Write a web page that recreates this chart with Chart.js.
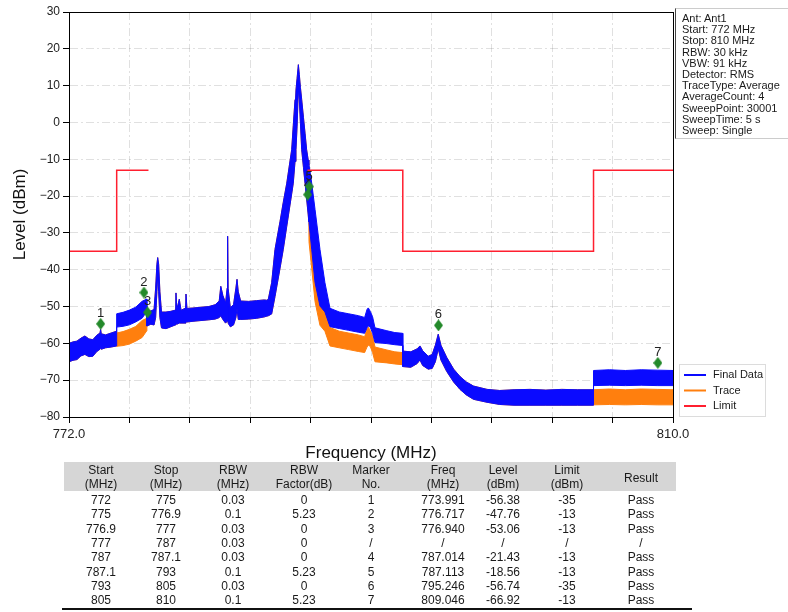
<!DOCTYPE html>
<html>
<head>
<meta charset="utf-8">
<script src="https://cdn.jsdelivr.net/npm/chart.js@4.4.1/dist/chart.umd.min.js"></script>
<style>
  html, body { margin: 0; padding: 0; background: #fff; }
  #wrap { position: relative; width: 788px; height: 612px; overflow: hidden;
          font-family: "Liberation Sans", Arial, sans-serif; color: #1a1a1a; }
  #chart { position: absolute; left: 0; top: 0; }
  #info { position: absolute; left: 675px; top: 8px; width: 120px; height: 131px;
          border-left: 1px solid #444; border-top: 1px solid #ccc; border-bottom: 1px solid #ccc;
          box-sizing: border-box; padding: 4px 0 0 6px; font-size: 11px; line-height: 11.2px;
          white-space: nowrap; overflow: hidden; }
  .hdr { position: absolute; left: 64px; top: 462px; width: 612px; height: 29px; background: #d6d6d6; }
  .cell { position: absolute; width: 90px; height: 14px; line-height: 14px; text-align: center;
          font-size: 12px; white-space: nowrap; }
  .rule { position: absolute; left: 62px; top: 608px; width: 630px; height: 2px; background: #111; }
</style>
</head>
<body>
<div id="wrap">
  <canvas id="chart" width="788" height="612"></canvas>
  <div id="info"></div>
  <div id="table"></div>
</div>
<script>
// spectrum trace (Trace, before RBW correction): band top / bottom in dBm
const freqMHz = [
  772.00, 772.25, 772.50, 772.75, 773.00, 773.25, 773.50, 773.75, 773.95, 773.99,
  774.03, 774.30, 774.65, 774.99, 775.00, 775.40, 775.80, 776.20, 776.60, 776.89,
  776.90, 777.15, 777.35, 777.45, 777.53, 777.58, 777.64, 777.72, 777.82, 778.10,
  778.40, 778.68, 778.73, 778.78, 778.94, 779.05, 779.30, 779.36, 779.42, 779.80,
  780.30, 780.80, 781.20, 781.45, 781.55, 781.68, 781.85, 781.95, 781.98, 782.01,
  782.15, 782.35, 782.50, 782.57, 782.65, 782.80, 783.30, 783.80, 784.30, 784.45,
  784.54, 784.75, 784.96, 785.28, 785.48, 785.70, 786.01, 786.11, 786.22, 786.28,
  786.35, 786.43, 786.49, 786.56, 786.64, 786.75, 786.85, 786.95, 787.05, 787.09,
  787.10, 787.27, 787.48, 787.79, 788.10, 788.42, 789.00, 789.60, 790.20, 790.60,
  790.75, 790.83, 790.95, 791.10, 791.25, 792.00, 792.50, 792.99, 793.00, 793.50,
  793.90, 794.08, 794.25, 794.60, 794.85, 795.05, 795.23, 795.40, 795.76, 796.20,
  796.60, 797.00, 797.45, 798.30, 799.10, 800.00, 801.00, 802.00, 803.00, 804.00,
  804.99, 805.00, 806.00, 807.00, 808.00, 809.00, 810.00
];
const traceHi = [
  -60.0, -59.6, -59.4, -58.6, -58.0, -58.8, -59.0, -57.8, -57.2, -56.2,
  -57.4, -57.7, -57.2, -56.7, -57.2, -56.8, -56.2, -55.4, -53.8, -53.2,
  -51.5, -51.2, -50.8, -45.0, -38.5, -36.7, -38.5, -46.0, -51.5, -51.5,
  -51.3, -51.0, -46.3, -50.8, -48.0, -51.0, -50.5, -46.6, -50.5, -50.4,
  -50.2, -50.0, -49.5, -48.5, -44.5, -47.0, -49.0, -45.0, -30.9, -45.0,
  -50.3, -49.5, -45.0, -42.6, -46.0, -48.5, -48.6, -48.4, -48.2, -48.3,
  -48.0, -43.5, -34.5, -26.8, -21.7, -16.5, -7.4, -0.8, 6.2, 8.8,
  12.0, 15.7, 13.0, 9.5, 6.2, 1.4, -2.9, -7.4, -10.2, -11.6,
  -16.8, -21.7, -28.9, -39.7, -48.7, -55.7, -56.7, -57.2, -57.7, -58.2,
  -56.0, -55.6, -56.5, -58.0, -61.0, -61.8, -62.3, -62.5, -62.1, -62.3,
  -61.5, -60.7, -62.0, -63.5, -63.0, -60.5, -57.5, -60.5, -63.8, -67.0,
  -69.0, -70.5, -71.6, -72.5, -72.8, -72.6, -72.5, -72.7, -72.5, -72.6,
  -72.6, -72.6, -72.4, -72.6, -72.4, -72.5, -72.6
];
const traceLo = [
  -65.0, -64.6, -64.4, -63.4, -63.0, -63.6, -63.5, -62.2, -61.6, -61.0,
  -61.6, -61.2, -61.0, -60.7, -60.8, -60.6, -60.2, -59.4, -58.4, -56.6,
  -55.3, -54.8, -55.0, -53.0, -46.0, -41.0, -46.0, -53.0, -55.8, -56.0,
  -55.5, -55.0, -54.5, -54.8, -54.5, -54.5, -54.5, -54.0, -54.2, -54.0,
  -53.8, -53.6, -53.4, -53.0, -52.5, -53.5, -54.5, -54.0, -50.0, -54.5,
  -55.5, -55.0, -53.0, -50.5, -53.5, -53.5, -53.4, -53.2, -52.8, -52.6,
  -52.5, -52.0, -47.3, -39.5, -34.5, -28.2, -19.4, -16.5, -10.6, -7.4,
  -1.0, 9.0, 6.2, -0.2, -7.4, -12.2, -16.5, -20.8, -25.1, -27.0,
  -32.4, -39.7, -48.7, -55.1, -56.7, -60.7, -61.2, -61.7, -62.2, -62.5,
  -61.0, -60.5, -60.8, -62.5, -65.0, -65.3, -65.6, -65.8, -66.3, -66.5,
  -65.5, -64.5, -66.0, -67.0, -66.8, -65.0, -61.5, -64.5, -67.6, -70.5,
  -72.5, -74.0, -75.2, -76.0, -76.6, -76.8, -76.8, -76.8, -76.8, -76.8,
  -76.8, -76.7, -76.6, -76.7, -76.6, -76.7, -76.7
];

// result table
const segStart  = [772, 775, 776.9, 777, 787, 787.1, 793, 805];
const segStop   = [775, 776.9, 777, 787, 787.1, 793, 805, 810];
const segRbw    = [0.03, 0.1, 0.03, 0.03, 0.03, 0.1, 0.03, 0.1];
const rbwFactor = [0, 5.23, 0, 0, 0, 5.23, 0, 5.23];
const markerNo  = ['1', '2', '3', '/', '4', '5', '6', '7'];
const markerFreqTxt = ['773.991', '776.717', '776.940', '/', '787.014', '787.113', '795.246', '809.046'];
const markerLevel = [-56.38, -47.76, -53.06, null, -21.43, -18.56, -56.74, -66.92];
const segLimit  = [-35, -13, -13, null, -13, -13, -35, -13];
const segResult = ['Pass', 'Pass', 'Pass', '/', 'Pass', 'Pass', 'Pass', 'Pass'];

// marker diamonds as drawn on the plot
const markerFreq = [773.991, 776.717, 776.940, 787.014, 787.113, 795.246, 809.046];
const markerPlotLevel = [-54.7, -46.2, -51.6, -19.6, -17.4, -55.1, -65.3];
const markerLabel = ['1', '2', '3', '4', '5', '6', '7'];

const xTickValues = [772.0, 775.8, 779.6, 783.4, 787.2, 791.0, 794.8, 798.6, 802.4, 806.2, 810.0];

const infoLines = [
  'Ant: Ant1', 'Start: 772 MHz', 'Stop: 810 MHz', 'RBW: 30 kHz', 'VBW: 91 kHz',
  'Detector: RMS', 'TraceType: Average', 'AverageCount: 4', 'SweepPoint: 30001',
  'SweepTime: 5 s', 'Sweep: Single'
];

const BLUE = '#0a0aff';
const ORANGE = '#ff7f0e';
const RED = '#ff1f2f';
const GREEN = '#23892a';
const FONT = '"Liberation Sans", Arial, sans-serif';

// Final Data = Trace + RBW factor of the segment the point falls in
function factorAt(f) {
  for (let i = 0; i < segStart.length; i++) {
    const last = i === segStart.length - 1;
    if (f >= segStart[i] && (f < segStop[i] || (last && f <= segStop[i]))) return rbwFactor[i];
  }
  return 0;
}

const pts = arr => freqMHz.map((f, i) => ({ x: f, y: arr[i] }));
const finalPts = arr => freqMHz.map((f, i) => ({ x: f, y: arr[i] + factorAt(f) }));

// limit line from the table segments, broken where there is no limit
const limitPts = [];
segStart.forEach((s, i) => {
  if (segLimit[i] === null) {
    limitPts.push({ x: s, y: null });
  } else {
    limitPts.push({ x: s, y: segLimit[i] }, { x: segStop[i], y: segLimit[i] });
  }
});

// tall diamond for markers
const diamond = document.createElement('canvas');
diamond.width = 9; diamond.height = 12;
{
  const d = diamond.getContext('2d');
  d.fillStyle = GREEN;
  d.beginPath();
  d.moveTo(4.5, 0); d.lineTo(9, 6); d.lineTo(4.5, 12); d.lineTo(0, 6);
  d.closePath(); d.fill();
}

const LIMIT_INDEX = 4;

const markerLabels = {
  id: 'markerLabels',
  afterDatasetDraw(chart, args) {
    if (args.index !== LIMIT_INDEX) return;
    const { ctx, scales: { x, y } } = chart;
    ctx.save();
    ctx.fillStyle = '#222';
    ctx.font = '13px ' + FONT;
    ctx.textAlign = 'center';
    ctx.textBaseline = 'alphabetic';
    markerFreq.forEach((f, i) => {
      ctx.fillText(markerLabel[i], x.getPixelForValue(f), y.getPixelForValue(markerPlotLevel[i]) - 7);
    });
    ctx.restore();
  }
};

const frame = {
  id: 'frame',
  afterDraw(chart) {
    const { ctx, chartArea: a } = chart;
    ctx.save();
    ctx.strokeStyle = '#000';
    ctx.lineWidth = 1;
    ctx.strokeRect(a.left + 0.5, a.top + 0.5, a.right - a.left, a.bottom - a.top);
    ctx.restore();
  }
};

const legendBox = {
  id: 'legendBox',
  afterDraw(chart) {
    const { ctx, chartArea: a } = chart;
    const items = [2, 0, 4].map(i => chart.data.datasets[i]);
    const x0 = a.right + 6, y0 = 364;
    ctx.save();
    ctx.fillStyle = 'rgba(255,255,255,0.85)';
    ctx.fillRect(x0, y0, 86, 52);
    ctx.strokeStyle = '#dcdcdc';
    ctx.lineWidth = 1;
    ctx.strokeRect(x0 + 0.5, y0 + 0.5, 86, 52);
    ctx.font = '11px ' + FONT;
    ctx.textBaseline = 'middle';
    items.forEach((ds, k) => {
      const yy = y0 + 11 + k * 15.5;
      ctx.strokeStyle = ds.borderColor;
      ctx.lineWidth = 2;
      ctx.beginPath(); ctx.moveTo(x0 + 5, yy); ctx.lineTo(x0 + 27, yy); ctx.stroke();
      ctx.fillStyle = '#1a1a1a';
      ctx.fillText(ds.label, x0 + 34, yy);
    });
    ctx.restore();
  }
};

const minus = s => String(s).replace('-', '\u2212');

new Chart(document.getElementById('chart'), {
  type: 'line',
  data: {
    datasets: [
      { label: 'Trace', data: pts(traceHi), borderColor: ORANGE, borderWidth: 1,
        pointRadius: 0, fill: false, order: 3 },
      { label: 'Trace', data: pts(traceLo), borderColor: ORANGE, backgroundColor: ORANGE,
        borderWidth: 1, pointRadius: 0, fill: '-1', order: 3 },
      { label: 'Final Data', data: finalPts(traceHi), borderColor: BLUE, borderWidth: 1,
        pointRadius: 0, fill: false, order: 2 },
      { label: 'Final Data', data: finalPts(traceLo), borderColor: BLUE, backgroundColor: BLUE,
        borderWidth: 1, pointRadius: 0, fill: '-1', order: 2 },
      { label: 'Limit', data: limitPts, borderColor: RED, borderWidth: 1.5,
        pointRadius: 0, spanGaps: false, fill: false, order: 1 },
      { label: 'Markers', data: markerFreq.map((f, i) => ({ x: f, y: markerPlotLevel[i] })),
        showLine: false, pointStyle: diamond, pointRadius: 5, order: 0 }
    ]
  },
  options: {
    responsive: false,
    animation: false,
    layout: { padding: { left: 0, right: 115, top: 12, bottom: 145 } },
    scales: {
      x: {
        type: 'linear', min: 772, max: 810,
        afterBuildTicks: s => { s.ticks = xTickValues.map(v => ({ value: v })); },
        afterFit: s => { s.height = 50; },
        ticks: {
          autoSkip: false, maxRotation: 0, padding: 4, color: '#222',
          font: { family: FONT, size: 13 },
          callback: (v, i, arr) => (i === 0 || i === arr.length - 1) ? Number(v).toFixed(1) : ''
        },
        grid: { color: 'rgba(0,0,0,0.12)', tickLength: 6, tickColor: '#000' },
        border: { color: '#000', dash: [8, 3, 2, 3] },
        title: { display: true, text: 'Frequency (MHz)', color: '#111',
                 font: { family: FONT, size: 17 }, padding: { top: 0, bottom: 3 } }
      },
      y: {
        min: -80, max: 30,
        afterFit: s => { s.width = 69; },
        ticks: { stepSize: 10, padding: 3, color: '#222', font: { family: FONT, size: 12 },
                 callback: v => minus(v) },
        grid: { color: 'rgba(0,0,0,0.12)', tickLength: 6, tickColor: '#000' },
        border: { color: '#000', dash: [8, 3, 2, 3] },
        title: { display: true, text: 'Level (dBm)', color: '#111',
                 font: { family: FONT, size: 17 }, padding: { top: 10, bottom: 0 } }
      }
    },
    plugins: { legend: { display: false }, tooltip: { enabled: false } }
  },
  plugins: [markerLabels, frame, legendBox]
});

// info box
document.getElementById('info').innerHTML = infoLines.map(t => '<div>' + t + '</div>').join('');

// table below the chart
const colCenters = [101, 166, 233, 304, 371, 443, 503, 567, 641];
const headers = [
  ['Start', '(MHz)'], ['Stop', '(MHz)'], ['RBW', '(MHz)'], ['RBW', 'Factor(dB)'],
  ['Marker', 'No.'], ['Freq', '(MHz)'], ['Level', '(dBm)'], ['Limit', '(dBm)'], ['Result']
];
const fmt = v => (v === null ? '/' : String(v));
const rows = segStart.map((s, i) => [
  fmt(s), fmt(segStop[i]), fmt(segRbw[i]), fmt(rbwFactor[i]), markerNo[i],
  markerFreqTxt[i], fmt(markerLevel[i]), fmt(segLimit[i]), segResult[i]
]);
let html = '<div class="hdr"></div>';
const cell = (txt, cx, cy) =>
  '<div class="cell" style="left:' + (cx - 45) + 'px;top:' + (cy - 7) + 'px">' + txt + '</div>';
headers.forEach((h, c) => {
  if (h.length === 2) {
    html += cell(h[0], colCenters[c], 470) + cell(h[1], colCenters[c], 484);
  } else {
    html += cell(h[0], colCenters[c], 478);
  }
});
rows.forEach((r, i) => {
  r.forEach((t, c) => { html += cell(t, colCenters[c], 500 + i * 14.3); });
});
html += '<div class="rule"></div>';
document.getElementById('table').innerHTML = html;
</script>
</body>
</html>
